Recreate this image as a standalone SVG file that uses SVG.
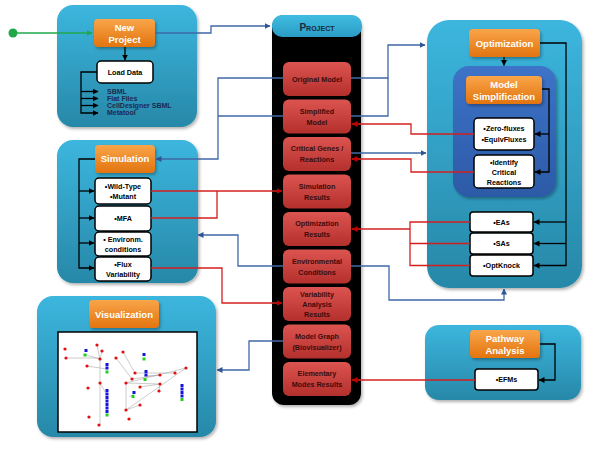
<svg xmlns="http://www.w3.org/2000/svg" width="600" height="450" viewBox="0 0 600 450">
<defs>
<linearGradient id="gPanel" x1="0" y1="0" x2="0" y2="1"><stop offset="0" stop-color="#3cb6de"/><stop offset="1" stop-color="#2788a8"/></linearGradient>
<linearGradient id="gInner" x1="0" y1="0" x2="0" y2="1"><stop offset="0" stop-color="#3d73c8"/><stop offset="1" stop-color="#2c5aa6"/></linearGradient>
<linearGradient id="gOrange" x1="0" y1="0" x2="0" y2="1"><stop offset="0" stop-color="#f9a54a"/><stop offset="1" stop-color="#e2740e"/></linearGradient>
<linearGradient id="gRed" x1="0" y1="0" x2="0" y2="1"><stop offset="0" stop-color="#dc5450"/><stop offset="1" stop-color="#b4302d"/></linearGradient>
<linearGradient id="gHead" x1="0" y1="0" x2="0" y2="1"><stop offset="0" stop-color="#40bce2"/><stop offset="1" stop-color="#2a9cc4"/></linearGradient>
<filter id="sh" x="-10%" y="-10%" width="125%" height="125%"><feDropShadow dx="1.5" dy="2" stdDeviation="1.5" flood-color="#000" flood-opacity="0.3"/></filter>
<marker id="ab" viewBox="0 0 6 6" refX="5.5" refY="3" markerWidth="6" markerHeight="6" orient="auto" markerUnits="userSpaceOnUse"><path d="M0,0 L6,3 L0,6z" fill="#2f5597"/></marker>
<marker id="ar" viewBox="0 0 6 6" refX="5.5" refY="3" markerWidth="6" markerHeight="6" orient="auto" markerUnits="userSpaceOnUse"><path d="M0,0 L6,3 L0,6z" fill="#c00000"/></marker>
<marker id="ak" viewBox="0 0 6 6" refX="5.5" refY="3" markerWidth="6" markerHeight="6" orient="auto" markerUnits="userSpaceOnUse"><path d="M0,0 L6,3 L0,6z" fill="#000"/></marker>
<marker id="ag" viewBox="0 0 6 6" refX="5.5" refY="3" markerWidth="6" markerHeight="6" orient="auto" markerUnits="userSpaceOnUse"><path d="M0,0 L6,3 L0,6z" fill="#1fa84a"/></marker>
</defs>
<style>
.panel{fill:url(#gPanel);filter:url(#sh)}
.inner{fill:url(#gInner);filter:url(#sh)}
.orange{fill:url(#gOrange);filter:url(#sh)}
.red{fill:url(#gRed)}
.white{fill:#fff;stroke:#000;stroke-width:1.5}
.to{font-family:"Liberation Sans",Arial,sans-serif;font-weight:bold;font-size:9.5px;fill:#fff;text-anchor:middle}
.tr{font-family:"Liberation Sans",Arial,sans-serif;font-weight:bold;font-size:7.2px;fill:#3a0d0d;text-anchor:middle}
.tw{font-family:"Liberation Sans",Arial,sans-serif;font-weight:bold;font-size:7.2px;fill:#000;text-anchor:middle}
.tl{font-family:"Liberation Sans",Arial,sans-serif;font-weight:bold;font-size:7px;fill:#1c2a4e}
.cb{fill:none;stroke:#3f68a6;stroke-width:1.3}
.cr{fill:none;stroke:#d41f1f;stroke-width:1.3}
.ck{fill:none;stroke:#000;stroke-width:1.3}
.net{stroke:#aaa;stroke-width:0.6;fill:none}
.rd{fill:#e01010}
.bl{fill:#1414e0}
.gr{fill:#20d020}
</style>

<g id="new-project">
<rect class="panel" x="57" y="5" width="140" height="122" rx="16"/>
<rect class="orange" x="94" y="19" width="61" height="28" rx="4"/>
<text class="to" x="124.5" y="30.5">New</text>
<text class="to" x="124.5" y="42.5">Project</text>
</g>
<g id="load-data">
<rect class="white" x="97" y="61" width="56" height="22" rx="4"/>
<text class="tw" x="125" y="75">Load Data</text>
<text class="tl" x="107" y="94">SBML</text>
<text class="tl" x="107" y="101">Flat Files</text>
<text class="tl" x="107" y="108">CellDesigner SBML</text>
<text class="tl" x="107" y="115">Metatool</text>
</g>

<g id="project">
<rect x="272" y="15" width="89" height="390" rx="12" fill="#000" filter="url(#sh)"/>
<rect x="272" y="15" width="90" height="22" rx="10" fill="url(#gHead)"/>
<text x="317" y="30.5" font-family="Liberation Sans, Arial, sans-serif" font-weight="bold" font-size="10" font-variant="small-caps" fill="#1a2a40" text-anchor="middle">Project</text>
</g>
<g id="original-model"><rect class="red" x="283" y="62" width="68" height="34" rx="6"/><text class="tr" x="317" y="81.5">Original Model</text></g>
<g id="simplified-model"><rect class="red" x="283" y="99.5" width="68" height="34" rx="6"/><text class="tr" x="317" y="113.5">Simplified</text><text class="tr" x="317" y="124.5">Model</text></g>
<g id="critical-genes"><rect class="red" x="283" y="137" width="68" height="34" rx="6"/><text class="tr" x="317" y="151">Critical Genes /</text><text class="tr" x="317" y="162">Reactions</text></g>
<g id="simulation-results"><rect class="red" x="283" y="174.5" width="68" height="34" rx="6"/><text class="tr" x="317" y="188.5">Simulation</text><text class="tr" x="317" y="199.5">Results</text></g>
<g id="optimization-results"><rect class="red" x="283" y="212" width="68" height="34" rx="6"/><text class="tr" x="317" y="226">Optimization</text><text class="tr" x="317" y="237">Results</text></g>
<g id="environmental-conditions"><rect class="red" x="283" y="249.5" width="68" height="34" rx="6"/><text class="tr" x="317" y="263.5">Environmental</text><text class="tr" x="317" y="274.5">Conditions</text></g>
<g id="variability-results"><rect class="red" x="283" y="287" width="68" height="34" rx="6"/><text class="tr" x="317" y="297">Variability</text><text class="tr" x="317" y="307">Analysis</text><text class="tr" x="317" y="317">Results</text></g>
<g id="model-graph"><rect class="red" x="283" y="324.5" width="68" height="34" rx="6"/><text class="tr" x="317" y="338.5">Model Graph</text><text class="tr" x="317" y="349.5">(Biovisualizer)</text></g>
<g id="elementary-modes"><rect class="red" x="283" y="362" width="68" height="34" rx="6"/><text class="tr" x="317" y="376">Elementary</text><text class="tr" x="317" y="387">Modes Results</text></g>

<g id="optimization-panel">
<rect class="panel" x="427" y="20" width="155" height="268" rx="22"/>
<rect class="orange" x="469" y="29" width="71" height="28" rx="4"/>
<text class="to" x="504.5" y="46.5">Optimization</text>
</g>
<g id="model-simplification">
<rect class="inner" x="453" y="66" width="103" height="131" rx="16"/>
<rect class="orange" x="466" y="76" width="76" height="28" rx="4"/>
<text class="to" x="504" y="87.5">Model</text>
<text class="to" x="504" y="99.5">Simplification</text>
</g>
<g id="zero-fluxes"><rect class="white" x="474" y="118" width="60" height="32" rx="4"/><text class="tw" x="504" y="131">•Zero-fluxes</text><text class="tw" x="504" y="142">•EquivFluxes</text></g>
<g id="identify-critical"><rect class="white" x="474" y="155" width="60" height="33" rx="4"/><text class="tw" x="504" y="165">•Identify</text><text class="tw" x="504" y="175">Critical</text><text class="tw" x="504" y="185">Reactions</text></g>
<g id="eas"><rect class="white" x="470" y="212" width="63" height="20" rx="3"/><text class="tw" x="501.5" y="225">•EAs</text></g>
<g id="sas"><rect class="white" x="470" y="233" width="63" height="21" rx="3"/><text class="tw" x="501.5" y="246">•SAs</text></g>
<g id="optknock"><rect class="white" x="470" y="255" width="63" height="21" rx="3"/><text class="tw" x="501.5" y="268">•OptKnock</text></g>

<g id="simulation-panel">
<rect class="panel" x="57" y="140" width="141" height="143" rx="16"/>
<rect class="orange" x="95" y="145" width="60" height="28" rx="4"/>
<text class="to" x="125" y="162">Simulation</text>
</g>
<g id="wild-type"><rect class="white" x="95" y="178" width="56" height="26" rx="4"/><text class="tw" x="123" y="189">•Wild-Type</text><text class="tw" x="123" y="199">•Mutant</text></g>
<g id="mfa"><rect class="white" x="95" y="206" width="56" height="25" rx="4"/><text class="tw" x="123" y="221">•MFA</text></g>
<g id="environm"><rect class="white" x="95" y="232" width="56" height="24" rx="4"/><text class="tw" x="123" y="242">• Environm.</text><text class="tw" x="123" y="252">conditions</text></g>
<g id="flux-variability"><rect class="white" x="95" y="257" width="56" height="24" rx="4"/><text class="tw" x="123" y="266.5">•Flux</text><text class="tw" x="123" y="276.5">Variability</text></g>

<g id="visualization-panel">
<rect class="panel" x="37" y="296" width="179" height="141" rx="16"/>
<rect class="orange" x="89" y="300" width="70" height="28" rx="4"/>
<text class="to" x="124" y="317.5">Visualization</text>
<rect x="58" y="332" width="139" height="100" fill="#fff" stroke="#000" stroke-width="1.5"/>
<g class="net">
<path d="M66,358 H100 M97,345 L100,359 M102,351 L100,359 M100,359 V425 M87,366 L107,369 M100,383 L107,395 M123,352 L135,373 M116,358 L132,379 M126,383 V410 M126,383 L186,368 M126,410 L186,368 M135,373 H175 M132,379 L160,375 M126,383 L160,384 M140,387 L160,384 M159,391 L160,384 M126,410 L140,405 M86,355 L100,359 M144,376 L160,375 M129,397 L134,394"/>
</g>
<g class="rd">
<circle cx="65" cy="349" r="1.6"/><circle cx="97" cy="345" r="1.6"/><circle cx="102" cy="351" r="1.6"/><circle cx="66" cy="358" r="1.6"/><circle cx="100" cy="359" r="1.6"/><circle cx="87" cy="366" r="1.6"/><circle cx="123" cy="352" r="1.6"/><circle cx="116" cy="358" r="1.6"/><circle cx="88" cy="388" r="1.6"/><circle cx="100" cy="383" r="1.6"/><circle cx="135" cy="373" r="1.6"/><circle cx="132" cy="379" r="1.6"/><circle cx="126" cy="383" r="1.6"/><circle cx="160" cy="375" r="1.6"/><circle cx="175" cy="373" r="1.6"/><circle cx="186" cy="368" r="1.6"/><circle cx="160" cy="384" r="1.6"/><circle cx="140" cy="387" r="1.6"/><circle cx="159" cy="391" r="1.6"/><circle cx="126" cy="410" r="1.6"/><circle cx="140" cy="405" r="1.6"/><circle cx="89" cy="417" r="1.6"/><circle cx="99" cy="425" r="1.6"/><circle cx="129" cy="419" r="1.6"/>
</g>
<g class="bl">
<rect x="84.5" y="349" width="3" height="3"/>
<rect x="105.5" y="363" width="3" height="3"/><rect x="105.5" y="366.5" width="3" height="3"/>
<rect x="142.5" y="353" width="3" height="3"/>
<rect x="144.5" y="370" width="3" height="3"/><rect x="144.5" y="373.5" width="3" height="3"/>
<rect x="105.5" y="389" width="3" height="3"/><rect x="105.5" y="392.5" width="3" height="3"/><rect x="105.5" y="396" width="3" height="3"/><rect x="105.5" y="399.5" width="3" height="3"/><rect x="105.5" y="403" width="3" height="3"/><rect x="105.5" y="406.5" width="3" height="3"/><rect x="105.5" y="410" width="3" height="3"/>
<rect x="132.5" y="391" width="3" height="3"/>
<rect x="180.5" y="384" width="3" height="3"/><rect x="180.5" y="387.5" width="3" height="3"/><rect x="180.5" y="391" width="3" height="3"/><rect x="180.5" y="394.5" width="3" height="3"/>
</g>
<g class="gr">
<rect x="83.5" y="353.5" width="3" height="3"/><rect x="105.5" y="370.5" width="3" height="3"/><rect x="142.5" y="357.5" width="3" height="3"/><rect x="143.5" y="378" width="3" height="3"/><rect x="105.5" y="413.5" width="3" height="3"/><rect x="131.5" y="395" width="3" height="3"/><rect x="180.5" y="398" width="3" height="3"/>
</g>
</g>

<g id="pathway-panel">
<rect class="panel" x="425" y="325" width="156" height="75" rx="14"/>
<rect class="orange" x="470" y="330" width="70" height="28" rx="4"/>
<text class="to" x="505" y="341.5">Pathway</text>
<text class="to" x="505" y="353.5">Analysis</text>
</g>
<g id="efms"><rect class="white" x="475" y="369" width="63" height="21" rx="3"/><text class="tw" x="506.5" y="382">•EFMs</text></g>

<g id="connectors">
<circle cx="13" cy="33" r="4.5" fill="#1fa84a"/>
<path d="M13,33 H92" fill="none" stroke="#1fa84a" stroke-width="1.6" marker-end="url(#ag)"/>
<path class="ck" d="M125,47 V60" marker-end="url(#ak)"/>
<path class="ck" d="M97,72 H81 V113 H98" marker-end="url(#ak)"/>
<path class="ck" d="M81,91.5 H98" marker-end="url(#ak)"/>
<path class="ck" d="M81,98.5 H98" marker-end="url(#ak)"/>
<path class="ck" d="M81,105.5 H98" marker-end="url(#ak)"/>
<path class="ck" d="M540,43 H566 V265.5 H534" marker-end="url(#ak)"/>
<path class="ck" d="M566,222 H534" marker-end="url(#ak)"/>
<path class="ck" d="M566,243.5 H534" marker-end="url(#ak)"/>
<path class="ck" d="M504,57 V65.5" marker-end="url(#ak)"/>
<path class="ck" d="M542,89 H549 V172 H535" marker-end="url(#ak)"/>
<path class="ck" d="M549,134 H535" marker-end="url(#ak)"/>
<path class="ck" d="M95,159 H79 V268 H94" marker-end="url(#ak)"/>
<path class="ck" d="M79,191 H94" marker-end="url(#ak)"/>
<path class="ck" d="M79,218 H94" marker-end="url(#ak)"/>
<path class="ck" d="M79,243 H94" marker-end="url(#ak)"/>
<path class="ck" d="M540,344 H555 V380 H539" marker-end="url(#ak)"/>

<path class="cb" d="M155,33 H211 V26 H270" marker-end="url(#ab)"/>
<path class="cb" d="M351,78 H388 V45 H425" marker-end="url(#ab)"/>
<path class="cb" d="M351,116 H388 V78"/>
<path class="cb" d="M351,153 H426" marker-end="url(#ab)"/>
<path class="cb" d="M283,78 H218 V159 H156" marker-end="url(#ab)"/>
<path class="cb" d="M283,116 H218"/>
<path class="cb" d="M351,266 H389 V300 H504 V289" marker-end="url(#ab)"/>
<path class="cb" d="M283,266 H238 V235 H198" marker-end="url(#ab)"/>
<path class="cb" d="M283,341 H249 V370 H217" marker-end="url(#ab)"/>

<path class="cr" d="M474,134 H411 V124 H352" marker-end="url(#ar)"/>
<path class="cr" d="M474,172 H411 V159 H352" marker-end="url(#ar)"/>
<path class="cr" d="M470,222 H410 V265.5 H470"/>
<path class="cr" d="M470,243.5 H410"/>
<path class="cr" d="M410,229 H352" marker-end="url(#ar)"/>
<path class="cr" d="M151,191 H282" marker-end="url(#ar)"/>
<path class="cr" d="M151,218 H217 V191"/>
<path class="cr" d="M151,268 H222 V303 H282" marker-end="url(#ar)"/>
<path class="cr" d="M475,380 H352" marker-end="url(#ar)"/>
</g>
</svg>
